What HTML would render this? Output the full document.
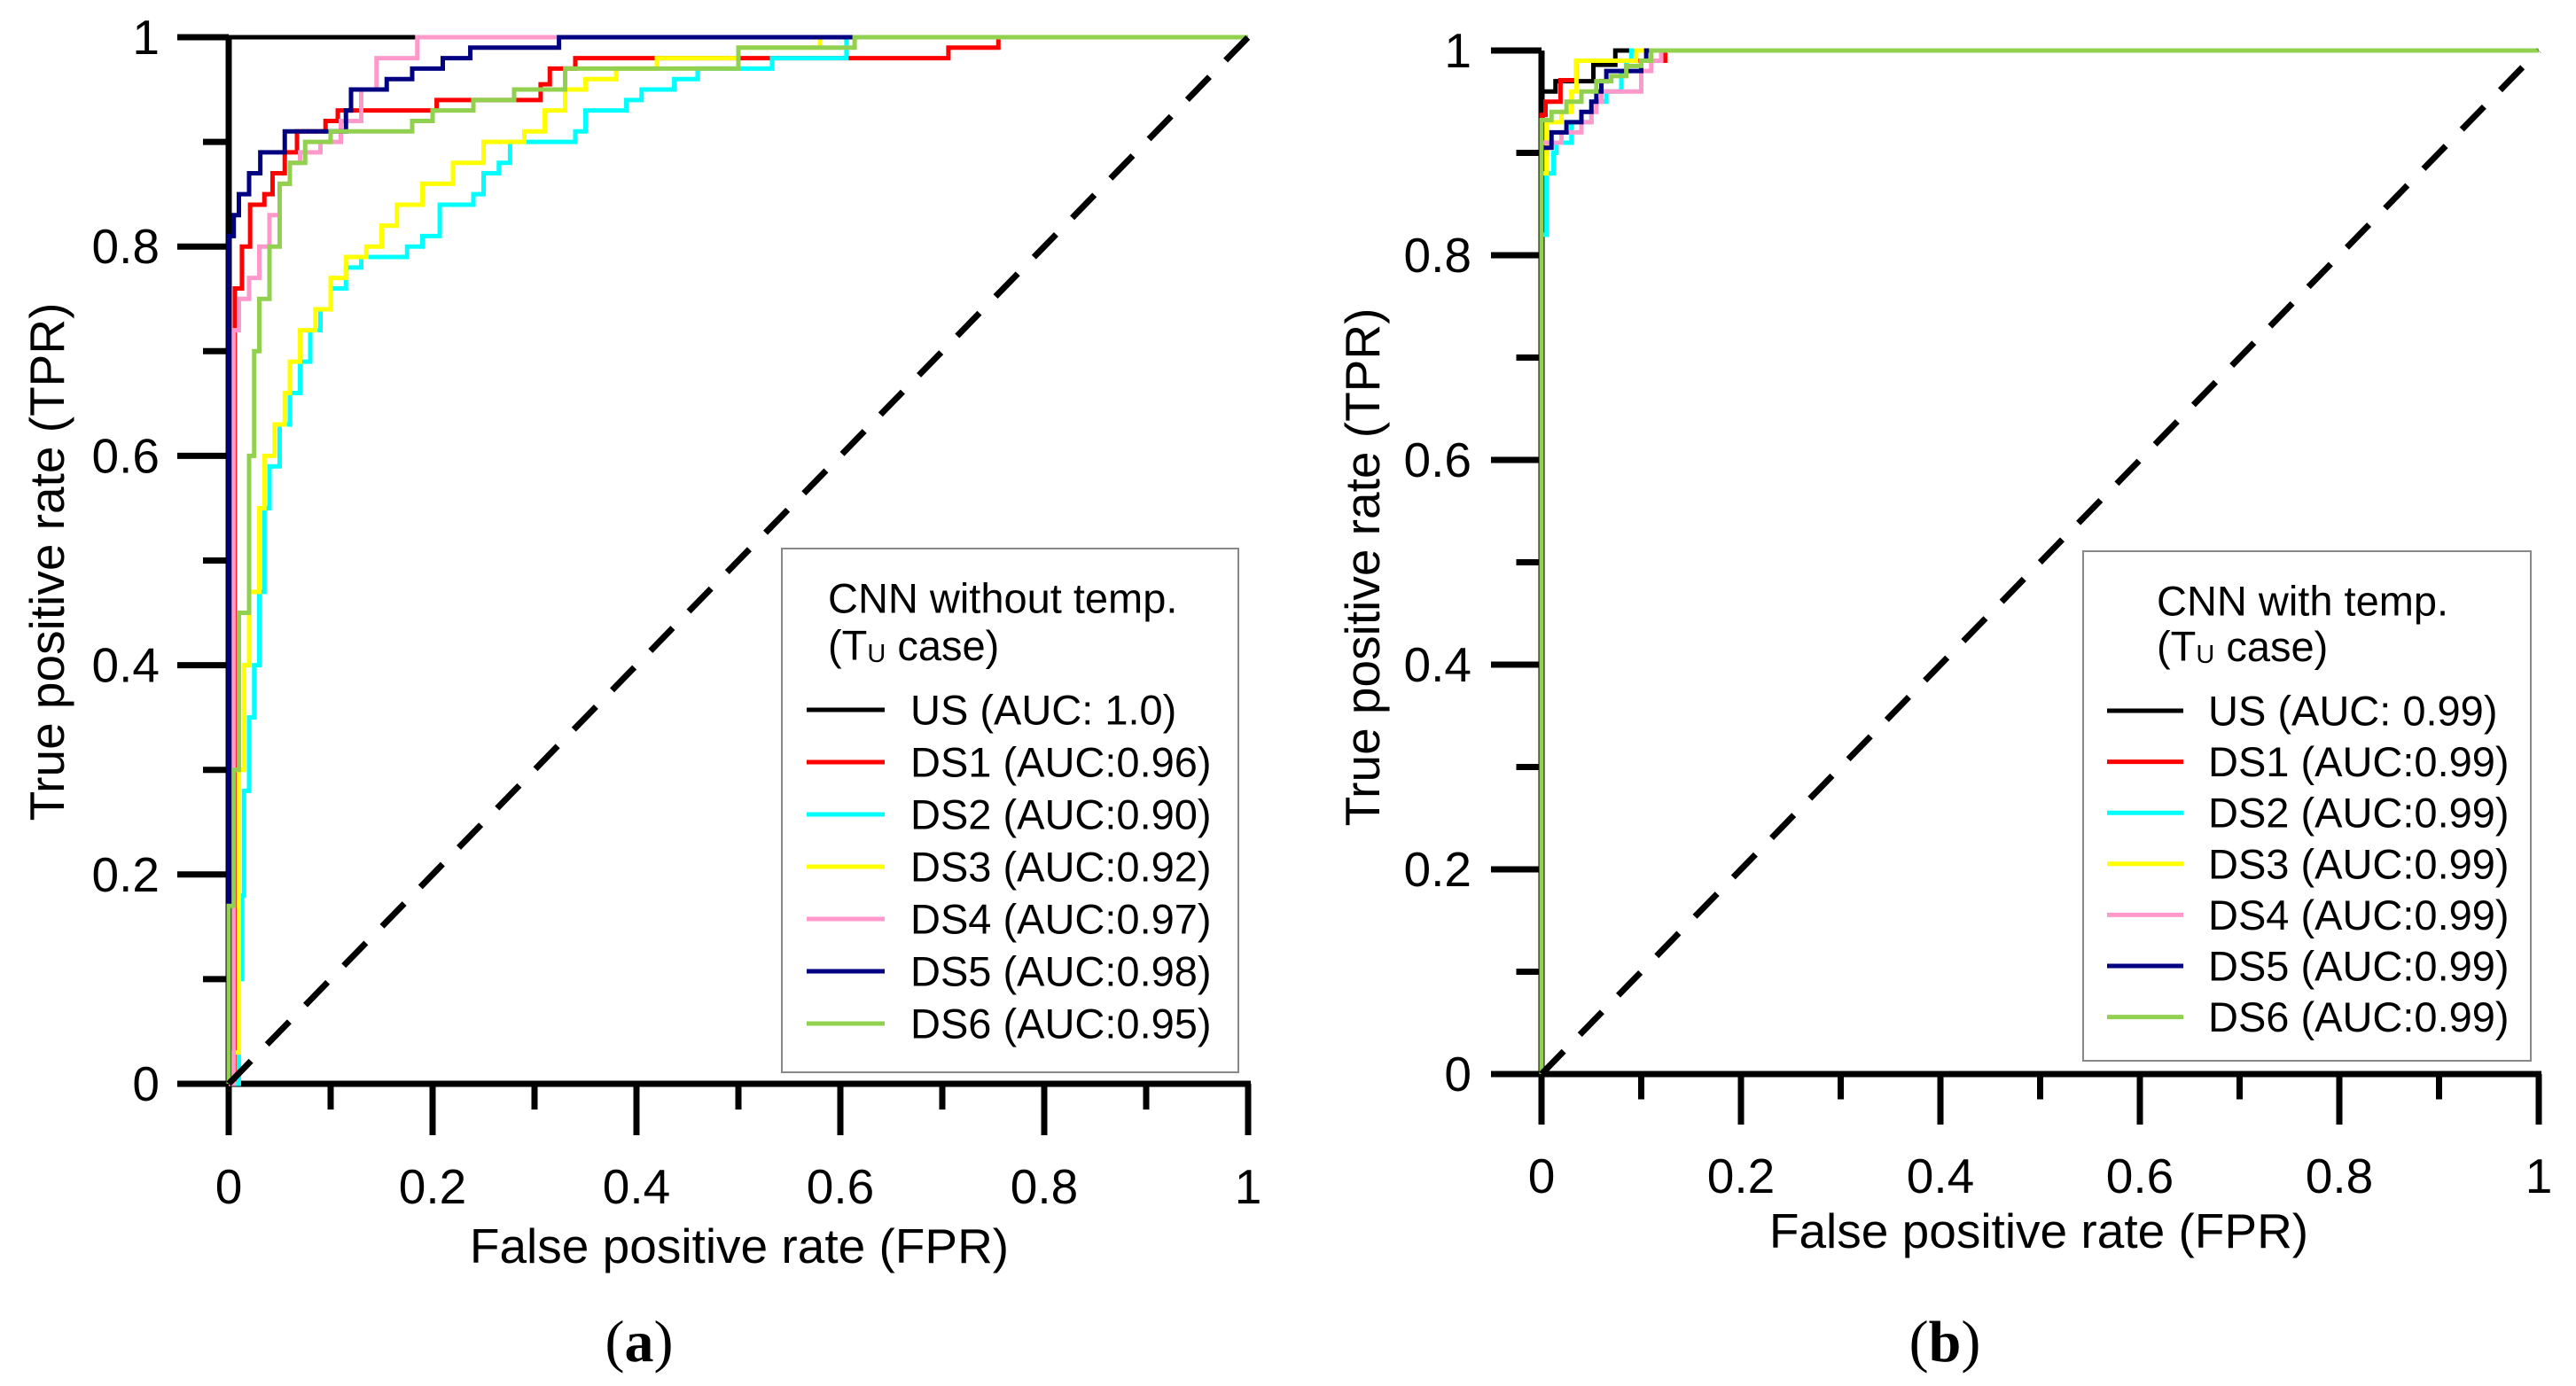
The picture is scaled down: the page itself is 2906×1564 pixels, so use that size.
<!DOCTYPE html>
<html><head><meta charset="utf-8">
<style>
html,body{margin:0;padding:0;background:#fff;}
svg{display:block;font-family:"Liberation Sans",sans-serif;}
</style></head>
<body>
<svg id="fig" width="2906" height="1564" viewBox="0 0 2906 1564" xmlns="http://www.w3.org/2000/svg"></svg>
<script>
// ---- data: panel (a) CNN without temp ----
const seriesNames = ["US","DS1","DS2","DS3","DS4","DS5","DS6"];
const seriesColors = ["#000000","#ff0000","#00ffff","#ffff00","#ff99cc","#000080","#92d050"];
const aucA = ["AUC: 1.0","AUC:0.96","AUC:0.90","AUC:0.92","AUC:0.97","AUC:0.98","AUC:0.95"];
const aucB = ["AUC: 0.99","AUC:0.99","AUC:0.99","AUC:0.99","AUC:0.99","AUC:0.99","AUC:0.99"];
const tickLabels = ["0","0.2","0.4","0.6","0.8","1"];
const tickValues = [0,0.2,0.4,0.6,0.8,1];
const minorValues = [0.1,0.3,0.5,0.7,0.9];

const aUS = [[0,0],[0,1],[1,1]];
const aDS1 = [[0,0],[0.006,0.53],[0.006,0.76],[0.013,0.80],[0.021,0.84],[0.035,0.85],[0.043,0.87],[0.055,0.89],[0.067,0.91],[0.095,0.92],[0.107,0.93],[0.204,0.94],[0.306,0.955],[0.315,0.97],[0.34,0.98],[0.706,0.99],[0.755,1.0],[1,1]];
const aDS2 = [[0,0],[0.01,0.1],[0.013,0.18],[0.015,0.28],[0.02,0.35],[0.025,0.4],[0.03,0.47],[0.035,0.55],[0.04,0.59],[0.05,0.63],[0.06,0.66],[0.07,0.69],[0.08,0.72],[0.09,0.74],[0.1,0.76],[0.115,0.78],[0.13,0.79],[0.175,0.80],[0.19,0.81],[0.207,0.84],[0.24,0.85],[0.25,0.87],[0.265,0.88],[0.276,0.9],[0.34,0.91],[0.35,0.93],[0.39,0.94],[0.405,0.95],[0.437,0.96],[0.46,0.97],[0.533,0.98],[0.606,1.0],[1,1]];
const aDS3 = [[0,0],[0.005,0.03],[0.01,0.3],[0.015,0.4],[0.02,0.47],[0.03,0.55],[0.035,0.6],[0.045,0.63],[0.055,0.66],[0.06,0.69],[0.07,0.72],[0.085,0.74],[0.1,0.77],[0.115,0.79],[0.135,0.8],[0.15,0.82],[0.165,0.84],[0.19,0.86],[0.22,0.88],[0.25,0.9],[0.29,0.91],[0.31,0.93],[0.33,0.95],[0.35,0.96],[0.38,0.97],[0.42,0.98],[0.5,0.99],[0.58,1.0],[1,1]];
const aDS4 = [[0,0],[0.005,0.53],[0.005,0.72],[0.01,0.75],[0.02,0.77],[0.03,0.8],[0.04,0.83],[0.05,0.86],[0.06,0.88],[0.07,0.89],[0.09,0.9],[0.11,0.92],[0.13,0.95],[0.145,0.98],[0.185,1.0],[1,1]];
const aDS5 = [[0,0],[0,0.81],[0.005,0.83],[0.01,0.85],[0.02,0.87],[0.031,0.89],[0.055,0.91],[0.115,0.93],[0.12,0.95],[0.155,0.96],[0.18,0.97],[0.21,0.98],[0.237,0.99],[0.324,1.0],[1,1]];
const aDS6 = [[0,0],[0,0.17],[0.005,0.3],[0.01,0.45],[0.02,0.6],[0.025,0.7],[0.03,0.75],[0.04,0.8],[0.05,0.86],[0.06,0.88],[0.075,0.9],[0.1,0.91],[0.18,0.92],[0.2,0.93],[0.24,0.94],[0.28,0.95],[0.33,0.96],[0.33,0.97],[0.5,0.98],[0.5,0.99],[0.614,1.0],[1,1]];

// ---- data: panel (b) CNN with temp ----
const bUS = [[0,0],[0,0.96],[0.014,0.97],[0.052,0.986],[0.074,1.0],[1,1]];
const bDS1 = [[0,0],[0,0.937],[0.004,0.95],[0.019,0.971],[0.035,0.99],[0.124,1.0],[1,1]];
const bDS2 = [[0,0],[0,0.82],[0.005,0.88],[0.012,0.9],[0.015,0.91],[0.03,0.93],[0.05,0.95],[0.065,0.96],[0.08,0.98],[0.085,0.99],[0.09,1.0],[1,1]];
const bDS3 = [[0,0],[0,0.88],[0.005,0.93],[0.02,0.94],[0.03,0.96],[0.035,0.99],[0.095,1.0],[1,1]];
const bDS4 = [[0,0],[0,0.91],[0.02,0.92],[0.04,0.93],[0.05,0.94],[0.055,0.95],[0.06,0.96],[0.1,0.98],[0.11,0.99],[0.12,1.0],[1,1]];
const bDS5 = [[0,0],[0,0.905],[0.01,0.92],[0.025,0.93],[0.04,0.94],[0.05,0.95],[0.055,0.96],[0.06,0.97],[0.065,0.98],[0.1,0.99],[0.105,1.0],[1,1]];
const bDS6 = [[0,0],[0,0.932],[0.01,0.94],[0.025,0.95],[0.04,0.96],[0.055,0.97],[0.07,0.975],[0.085,0.985],[0.1,0.99],[0.11,1.0],[1,1]];

const NS = "http://www.w3.org/2000/svg";
const svg = document.getElementById("fig");
function mk(tag, attrs, parent){
  const e = document.createElementNS(NS, tag);
  for (const k in attrs) e.setAttribute(k, attrs[k]);
  (parent||svg).appendChild(e);
  return e;
}

function panel(cfg){
  const g = mk("g", {});
  
  
  const X = v => cfg.x0 + v*(cfg.x1-cfg.x0);
  const Y = v => cfg.y0 - v*(cfg.y0-cfg.y1);
  // axes first (curves drawn over them)
  const ax = mk("g", {stroke:"#000", "stroke-width":7, fill:"none"}, g);
  
  
  const xa = mk("line", {x1:cfg.x0-cfg.tl, y1:cfg.y0, x2:cfg.x1+3, y2:cfg.y0}, ax);
  
  
  const ya = mk("line", {x1:cfg.x0, y1:cfg.y0, x2:cfg.x0, y2:cfg.y1}, ax);
  
  
  tickValues.forEach((v,i)=>{
    mk("line",{x1:X(v),y1:cfg.y0,x2:X(v),y2:cfg.y0+cfg.tl},ax);
    mk("line",{x1:cfg.x0-cfg.tl,y1:Y(v),x2:cfg.x0,y2:Y(v)},ax);
    const tx = mk("text",{x:X(v),y:cfg.xtY,"font-size":55,"text-anchor":"middle","dominant-baseline":"central",fill:"#000",stroke:"none"},g);
    tx.textContent = tickLabels[i];
    
    
    const ty = mk("text",{x:cfg.ytX,y:Y(v),"font-size":55,"text-anchor":"end","dominant-baseline":"central",fill:"#000",stroke:"none"},g);
    ty.textContent = tickLabels[i];
    
    
  });
  minorValues.forEach(v=>{
    mk("line",{x1:X(v),y1:cfg.y0,x2:X(v),y2:cfg.y0+cfg.tl/2},ax);
    mk("line",{x1:cfg.x0-cfg.tl/2,y1:Y(v),x2:cfg.x0,y2:Y(v)},ax);
  });
  const gc = mk("g", {}, g);
  
  
  cfg.series.forEach((pts, i) => {
    let d = "M" + X(pts[0][0]) + "," + Y(pts[0][1]);
    for (let j=1;j<pts.length;j++){
      d += " H" + X(pts[j][0]) + " V" + Y(pts[j][1]);
    }
    const p = mk("path", {d:d, fill:"none", stroke:seriesColors[i], "stroke-width":5, "stroke-linejoin":"miter"}, gc);
    
    
  });
  const dg = mk("line",{x1:X(0),y1:Y(0),x2:X(1),y2:Y(1),stroke:"#000","stroke-width":7,"stroke-dasharray":"36 26"},g);
  
  
  const xt = mk("text",{x:cfg.xTitle[0],y:cfg.xTitle[1],"font-size":55,"text-anchor":"middle","dominant-baseline":"central"},g);
  xt.textContent = "False positive rate (FPR)";
  
  
  const yt = mk("text",{x:0,y:0,"font-size":55,"text-anchor":"middle","dominant-baseline":"central",transform:"translate("+cfg.yTitle[0]+","+cfg.yTitle[1]+") rotate(-90)"},g);
  yt.textContent = "True positive rate (TPR)";
  
  
  const L = cfg.leg;
  const lg = mk("g",{},g);
  
  
  mk("rect",{x:L.x,y:L.y,width:L.w,height:L.h,fill:"#fff",stroke:"#888","stroke-width":2},lg);
  const t1 = mk("text",{x:L.tx,y:L.ty1,"font-size":47,"dominant-baseline":"central"},lg);
  t1.textContent = L.title;
  
  
  const t2 = mk("text",{x:L.tx,y:L.ty2,"font-size":47,"dominant-baseline":"central"},lg);
  t2.innerHTML = '(T<tspan font-size="29" dy="10">U</tspan><tspan dy="-10"> case)</tspan>';
  
  
  seriesNames.forEach((n,i)=>{
    const yy = L.ey0 + i*L.dy;
    const e = mk("g",{},lg);
    
    
    mk("line",{x1:L.lx0,y1:yy,x2:L.lx1,y2:yy,stroke:seriesColors[i],"stroke-width":5},e);
    const t = mk("text",{x:L.ex,y:yy,"font-size":47,"dominant-baseline":"central"},e);
    t.textContent = n + " (" + cfg.auc[i] + ")";
  });
  const cap = mk("text",{x:cfg.cap[0],y:cfg.cap[1],"font-size":66,"text-anchor":"middle","dominant-baseline":"central","font-family":"Liberation Serif, serif"},g);
  cap.innerHTML = '(<tspan font-weight="bold">' + cfg.capL + '</tspan>)';
  
  
}

panel({id:"panel-a", x0:258, x1:1408, y0:1223, y1:42, tl:58, xtY:1339, ytX:180,
  xTitle:[834,1406], yTitle:[53,634], cap:[721,1514], capL:"a", auc:aucA,
  series:[aUS,aDS1,aDS2,aDS3,aDS4,aDS5,aDS6],
  leg:{x:882,y:619,w:515,h:591,title:"CNN without temp.",tx:934,ty1:675,ty2:728,ey0:801,dy:59,lx0:910,lx1:998,ex:1027}});
panel({id:"panel-b", x0:1739, x1:2864, y0:1212, y1:57, tl:57, xtY:1327, ytX:1660,
  xTitle:[2300,1389], yTitle:[1537,640], cap:[2194,1514], capL:"b", auc:aucB,
  series:[bUS,bDS1,bDS2,bDS3,bDS4,bDS5,bDS6],
  leg:{x:2350,y:622,w:505,h:575,title:"CNN with temp.",tx:2433,ty1:678,ty2:729,ey0:802,dy:57.6,lx0:2377,lx1:2463,ex:2491}});
</script>
</body></html>
